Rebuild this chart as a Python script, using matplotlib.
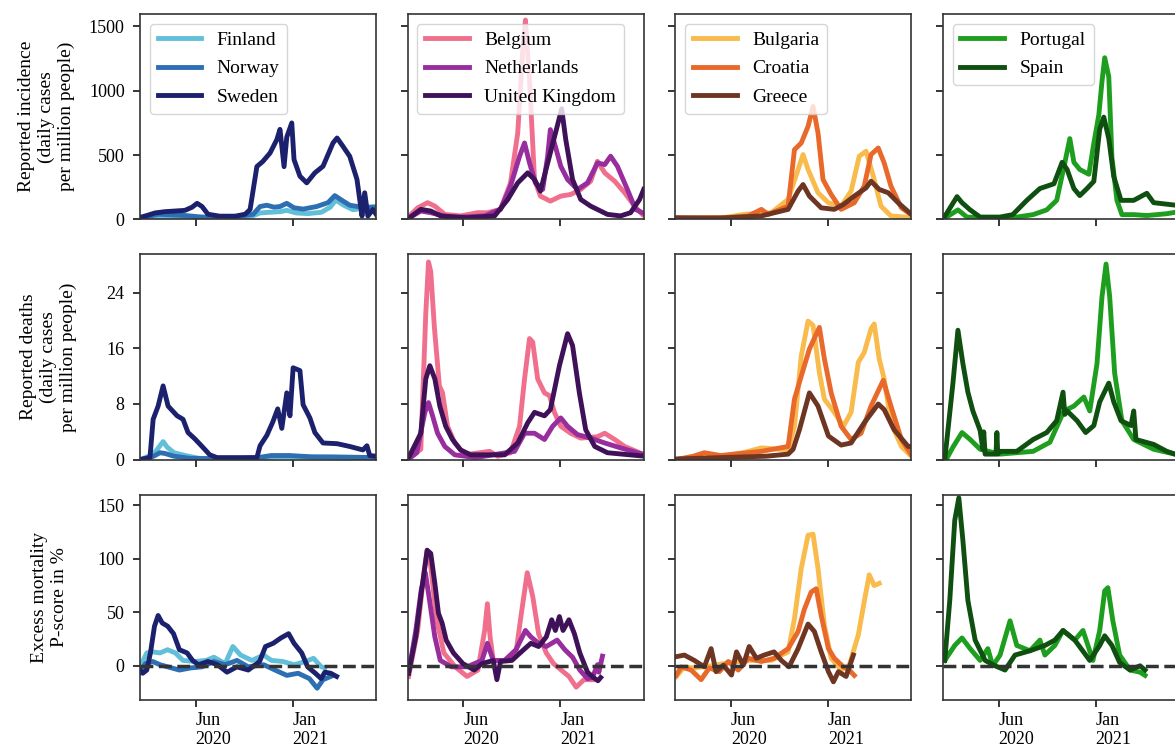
import matplotlib.pyplot as plt
import numpy as np

# values
# every series is a list of (days since 2020-01-30, value)
START = np.datetime64("2020-01-30")

# --- reported incidence (daily cases per million people)
finland_cases = [(0, 5), (30, 15), (60, 20), (100, 15), (150, 10), (200, 10), (240, 15), (265, 50),
                 (285, 55), (309, 60), (324, 70), (345, 50), (370, 45), (400, 55), (420, 95),
                 (432, 150), (450, 110), (470, 75), (500, 90), (521, 100)]
norway_cases = [(0, 10), (20, 25), (40, 40), (70, 35), (100, 30), (130, 20), (160, 15), (190, 15),
                (220, 25), (250, 40), (265, 100), (280, 110), (296, 95), (309, 100), (324, 125),
                (340, 90), (360, 80), (390, 100), (415, 130), (430, 185), (445, 150), (463, 110),
                (490, 95), (521, 95)]
sweden_cases = [(0, 15), (15, 30), (33, 50), (55, 60), (77, 65), (99, 70), (115, 95), (126, 125),
                (137, 100), (150, 40), (176, 25), (210, 25), (232, 40), (243, 77), (258, 411),
                (271, 450), (287, 516), (302, 620), (309, 700), (318, 410), (324, 640), (335, 750),
                (340, 465), (353, 336), (368, 284), (386, 362), (404, 413), (426, 594), (435, 633),
                (448, 568), (463, 490), (479, 310), (485, 155), (490, 26), (496, 207), (503, 26),
                (514, 77), (521, 40)]
belgium_cases = [(4, 27), (22, 90), (44, 130), (60, 103), (82, 39), (117, 27), (154, 52), (176, 52),
                 (205, 78), (227, 284), (243, 672), (254, 1318), (260, 1550), (269, 1085),
                 (280, 310), (293, 181), (315, 142), (338, 181), (360, 194), (382, 233), (404, 297),
                 (419, 452), (435, 362), (457, 297), (479, 207), (501, 103), (518, 39)]
netherlands_cases = [(4, 13), (29, 65), (51, 52), (95, 13), (170, 27), (205, 78), (227, 258),
                     (247, 491), (258, 594), (269, 439), (282, 284), (298, 233), (309, 491),
                     (315, 698), (326, 568), (338, 413), (353, 310), (375, 233), (397, 284),
                     (419, 439), (435, 426), (448, 491), (463, 413), (485, 233), (503, 78), (518, 52)]
uk_cases = [(4, 13), (29, 78), (51, 65), (73, 27), (132, 13), (192, 27), (221, 155), (243, 284),
            (265, 362), (280, 310), (293, 220), (313, 491), (331, 736), (340, 860), (349, 620),
            (364, 310), (382, 155), (404, 103), (441, 39), (470, 27), (492, 52), (512, 155), (521, 233)]
bulgaria_cases = [(0, 5), (100, 10), (152, 39), (212, 52), (249, 155), (271, 388), (282, 504),
                  (293, 388), (315, 207), (338, 129), (366, 103), (388, 220), (406, 491), (421, 530),
                  (437, 336), (454, 103), (476, 27), (525, 13)]
croatia_cases = [(0, 10), (60, 12), (120, 15), (160, 25), (190, 78), (205, 39), (249, 103),
                 (263, 542), (278, 594), (293, 723), (304, 878), (315, 672), (326, 310), (344, 194),
                 (366, 78), (395, 129), (417, 258), (432, 504), (448, 555), (461, 439), (476, 258),
                 (499, 90), (525, 27)]
greece_cases = [(0, 13), (100, 10), (190, 27), (249, 78), (271, 220), (282, 271), (296, 181),
                (322, 90), (351, 78), (371, 116), (395, 181), (421, 245), (432, 297), (450, 233),
                (470, 207), (492, 129), (525, 27)]
portugal_cases = [(0, 0), (33, 74), (53, 18), (126, 7), (163, 18), (199, 37), (229, 74), (251, 148),
                  (267, 407), (280, 628), (289, 444), (302, 388), (322, 351), (333, 592), (344, 813),
                  (351, 1072), (357, 1257), (366, 1109), (373, 480), (384, 148), (395, 37),
                  (421, 37), (450, 30), (494, 44), (512, 55), (521, 55)]
spain_cases = [(0, 0), (31, 177), (42, 130), (60, 74), (82, 18), (126, 18), (154, 37), (185, 148),
               (214, 240), (245, 277), (263, 444), (274, 388), (289, 240), (302, 185), (318, 240),
               (333, 296), (346, 702), (355, 795), (366, 628), (377, 333), (393, 148), (421, 148),
               (450, 203), (465, 130), (512, 111), (521, 111)]

# --- reported deaths (daily deaths per million people)
finland_deaths = [(0, 0), (30, 0.8), (44, 2.0), (51, 2.6), (60, 1.8), (75, 1.0), (100, 0.6),
                  (130, 0.2), (250, 0.1), (300, 0.4), (380, 0.4), (521, 0.2)]
norway_deaths = [(0, 0), (30, 0.5), (44, 1.0), (55, 0.9), (75, 0.5), (110, 0.2), (200, 0.1),
                 (260, 0.3), (290, 0.6), (330, 0.6), (380, 0.4), (430, 0.4), (521, 0.3)]
sweden_deaths = [(0, 0), (22, 0.3), (29, 5.8), (40, 7.7), (51, 10.6), (62, 7.7), (82, 6.3),
                 (95, 5.8), (106, 3.9), (121, 3.0), (137, 1.9), (154, 0.7), (170, 0.3), (258, 0.3),
                 (265, 2), (280, 3.5), (293, 5.4), (304, 7.3), (313, 4.5), (324, 9.6), (331, 6.3),
                 (338, 13.2), (353, 12.8), (360, 7.9), (375, 6.0), (386, 3.9), (404, 2.4),
                 (435, 2.3), (463, 1.9), (492, 1.4), (501, 2.0), (507, 0.6), (521, 0.5)]
belgium_deaths = [(0, 0), (29, 1.5), (40, 21), (46, 28.4), (51, 27), (59, 19), (70, 10.6),
                  (77, 9.6), (88, 4.8), (104, 2.4), (126, 0.7), (181, 1.2), (199, 0.5), (227, 1),
                  (247, 4.8), (258, 11.6), (269, 17.4), (276, 16.9), (287, 11.6), (302, 9.6),
                  (313, 9.2), (324, 6.8), (338, 4.8), (360, 3.8), (382, 3.1), (419, 3.3),
                  (435, 3.8), (457, 2.9), (479, 1.9), (523, 0.7)]
netherlands_deaths = [(0, 0), (20, 1), (38, 6.8), (46, 8.2), (55, 6.3), (66, 3.8), (82, 1.9),
                      (104, 0.7), (150, 0.3), (236, 1.2), (258, 3.8), (280, 3.8), (302, 2.9),
                      (320, 4.8), (338, 6.0), (353, 4.8), (375, 3.6), (404, 3.1), (435, 2.4),
                      (470, 1.7), (523, 0.7)]
uk_deaths = [(0, 0), (29, 3.8), (40, 11.6), (49, 13.5), (60, 11.6), (71, 7.7), (84, 4.8), (99, 2.9),
             (117, 1.4), (139, 0.7), (214, 0.7), (243, 2.4), (265, 5.3), (280, 6.8), (302, 6.3),
             (315, 7.2), (335, 13.5), (353, 18.1), (364, 16.4), (379, 9.6), (393, 4.3), (413, 1.9),
             (441, 1.0), (523, 0.5)]
bulgaria_deaths = [(0, 0), (40, 0.3), (100, 0.5), (150, 1.0), (190, 1.7), (249, 1.4), (263, 4.8),
                   (278, 14.9), (293, 19.9), (304, 19.3), (318, 12.5), (329, 8.7), (351, 6.8),
                   (371, 4.8), (388, 6.8), (404, 14.0), (417, 15.4), (432, 18.8), (439, 19.5),
                   (450, 14.5), (461, 11.6), (476, 5.3), (499, 1.9), (521, 0.5)]
croatia_deaths = [(0, 0), (40, 0.5), (64, 1.0), (100, 0.6), (190, 1.2), (249, 1.9), (263, 8.7),
                  (278, 12), (296, 15.9), (318, 19), (329, 14.5), (344, 9.6), (366, 4.8), (388, 2.9),
                  (410, 3.8), (432, 7.7), (459, 11.4), (476, 7.7), (499, 2.9), (521, 0.7)]
greece_deaths = [(0, 0.1), (100, 0.3), (200, 0.5), (249, 0.8), (260, 1.5), (274, 4.3), (296, 9.6),
                 (315, 7.7), (338, 3.4), (366, 2.1), (388, 2.4), (417, 5.3), (448, 8.0), (461, 7.2),
                 (483, 4.3), (514, 1.9), (521, 1.9)]
portugal_deaths = [(7, 0), (22, 1.8), (42, 3.9), (60, 2.9), (82, 1.5), (126, 0.8), (199, 1.2),
                   (236, 2.5), (267, 7), (289, 7.7), (311, 9), (324, 7), (340, 13.8), (351, 23.4),
                   (360, 28.1), (368, 23.4), (379, 12.4), (395, 5.6), (421, 2.9), (465, 1.5),
                   (512, 0.8), (521, 0.8)]
spain_deaths = [(4, 0), (22, 11), (33, 18.6), (44, 13.8), (55, 9.7), (66, 7), (82, 4.2), (88, 1.5),
                (90, 4.0), (93, 0.8), (117, 0.8), (119, 3.9), (121, 0.8), (126, 1.2), (163, 1.2),
                (199, 2.9), (229, 3.9), (251, 5.6), (265, 9.7), (269, 6.5), (274, 7), (296, 5.6),
                (315, 3.9), (333, 4.9), (346, 8.3), (366, 11), (377, 8.3), (393, 5.6), (415, 4.9),
                (421, 7.0), (426, 2.9), (465, 2.2), (494, 1.2), (512, 0.8), (521, 0.8)]

# --- excess mortality (P-score in %)
finland_excess = [(0, -1), (15, 12), (28, 13), (44, 12), (61, 15), (78, 12), (95, 5), (120, 4),
                  (146, 5), (163, 8), (188, 2), (205, 18), (222, 10), (247, 5), (273, 10), (290, 5),
                  (315, 4), (340, 1), (366, 4), (383, 7), (400, -1), (408, -2)]
norway_excess = [(0, -6), (12, 2), (28, 4), (44, 1), (61, -1), (87, -4), (112, -2), (137, -1),
                 (163, 4), (188, 1), (214, 5), (239, -1), (273, 1), (298, -4), (324, -9), (349, -7),
                 (374, -12), (391, -21), (404, -13), (421, -10)]
sweden_excess = [(0, -4), (6, -7), (15, -4), (23, 12), (32, 37), (40, 47), (49, 40), (61, 37),
                 (74, 30), (87, 15), (104, 12), (116, 5), (129, 1), (150, 4), (171, 1), (192, -6),
                 (214, -1), (239, -4), (264, 4), (277, 18), (294, 21), (311, 26), (328, 30),
                 (340, 21), (357, 12), (370, -1), (387, -7), (400, -12), (408, -6), (421, -7),
                 (434, -10)]
belgium_excess = [(2, -10), (22, 33), (35, 83), (43, 108), (51, 93), (64, 43), (80, 12), (105, -1),
                  (131, -10), (155, -4), (170, 33), (176, 58), (182, 27), (189, 5), (214, 5),
                  (239, 12), (251, 49), (264, 87), (276, 65), (289, 30), (306, 12), (322, 2),
                  (339, -4), (356, -10), (372, -20), (389, -13), (408, -13)]
netherlands_excess = [(2, -7), (18, 33), (30, 71), (39, 87), (47, 65), (60, 27), (72, 5), (97, -1),
                      (131, -1), (164, 5), (176, 21), (189, 5), (214, 5), (239, 15), (260, 33),
                      (272, 27), (289, 21), (306, 18), (330, 24), (347, 15), (364, 8), (380, -4),
                      (397, -12), (408, -11), (419, 1), (422, -6), (430, 9)]
uk_excess = [(2, -7), (18, 27), (30, 68), (43, 108), (51, 105), (60, 77), (68, 49), (76, 40),
             (85, 24), (101, 12), (122, 2), (147, -4), (164, 2), (189, 5), (197, -13), (205, 4),
             (230, 5), (256, 15), (272, 21), (289, 18), (306, 27), (318, 43), (326, 33), (335, 46),
             (343, 33), (356, 43), (368, 30), (380, 12), (397, -6), (410, -11), (420, -14),
             (426, -11)]
bulgaria_excess = [(2, -10), (20, -1), (42, -2), (80, 0), (120, 3), (160, 5), (212, 5), (249, 13),
                   (263, 44), (278, 91), (293, 122), (304, 123), (315, 91), (329, 38), (344, 7),
                   (366, -4), (384, 0.6), (404, 29), (417, 60), (428, 85), (439, 75), (450, 77)]
croatia_excess = [(2, -9), (13, -1), (35, -4), (57, -13), (75, -2), (97, -5.5), (117, 4), (139, -4),
                  (161, 7), (190, 4), (218, 7), (249, 16), (271, 32), (285, 53), (300, 69),
                  (311, 72), (322, 47), (338, 16), (351, 7), (371, -1), (384, -4), (395, -9)]
greece_excess = [(2, 8.5), (20, 10), (42, 5), (64, -1), (79, 16), (90, -5.5), (106, 0.6),
                 (124, -8.7), (135, 13), (150, 0.6), (163, 18), (179, 7), (196, 10), (218, 13),
                 (234, 5), (251, -1), (271, 16), (293, 39), (307, 32), (322, 13), (338, -5.5),
                 (349, -15), (360, -5.5), (377, -10), (393, 10)]
portugal_excess = [(4, 5), (26, 19), (42, 26), (60, 16), (82, 5), (99, 16), (110, 0), (126, 10),
                   (148, 42), (163, 19), (192, 14), (214, 24), (225, 10), (247, 19), (265, 33),
                   (291, 24), (309, 33), (331, 5), (346, 33), (357, 70), (364, 73), (375, 42),
                   (390, 10), (413, -4), (435, -6), (446, -9)]
spain_excess = [(4, 5), (15, 61), (26, 136), (35, 157), (44, 117), (55, 61), (71, 24), (93, 5),
                (115, 0), (137, -4), (159, 10), (192, 14), (225, 19), (247, 24), (265, 33),
                (291, 24), (324, 5), (346, 19), (357, 28), (373, 19), (390, 3), (413, -4), (435, 0),
                (446, -4)]

groups = [["Finland", "Norway", "Sweden"],
          ["Belgium", "Netherlands", "United Kingdom"],
          ["Bulgaria", "Croatia", "Greece"],
          ["Portugal", "Spain"]]

colors = {"Finland": "#62bfd8", "Norway": "#2e6fb3", "Sweden": "#1b216d",
          "Belgium": "#ef6f8d", "Netherlands": "#982d9d", "United Kingdom": "#3f1158",
          "Bulgaria": "#f8bb4c", "Croatia": "#e8692a", "Greece": "#6f3523",
          "Portugal": "#1e9e1e", "Spain": "#0f4f10"}

rows = [
    {"Finland": finland_cases, "Norway": norway_cases, "Sweden": sweden_cases,
     "Belgium": belgium_cases, "Netherlands": netherlands_cases, "United Kingdom": uk_cases,
     "Bulgaria": bulgaria_cases, "Croatia": croatia_cases, "Greece": greece_cases,
     "Portugal": portugal_cases, "Spain": spain_cases},
    {"Finland": finland_deaths, "Norway": norway_deaths, "Sweden": sweden_deaths,
     "Belgium": belgium_deaths, "Netherlands": netherlands_deaths, "United Kingdom": uk_deaths,
     "Bulgaria": bulgaria_deaths, "Croatia": croatia_deaths, "Greece": greece_deaths,
     "Portugal": portugal_deaths, "Spain": spain_deaths},
    {"Finland": finland_excess, "Norway": norway_excess, "Sweden": sweden_excess,
     "Belgium": belgium_excess, "Netherlands": netherlands_excess, "United Kingdom": uk_excess,
     "Bulgaria": bulgaria_excess, "Croatia": croatia_excess, "Greece": greece_excess,
     "Portugal": portugal_excess, "Spain": spain_excess},
]

row_labels = ["Reported incidence\n(daily cases\nper million people)",
              "Reported deaths\n(daily cases\nper million people)",
              "Excess mortality\nP-score in %"]
row_ticks = [[0, 500, 1000, 1500], [0, 8, 16, 24], [0, 50, 100, 150]]
row_limits = [(0, 1597), (0, 29.5), (-32, 160)]
label_x = [-0.275, -0.267, -0.305]

tick_dates = [np.datetime64("2020-06-01"), np.datetime64("2021-01-01")]
tick_labels = ["Jun\n2020", "Jan\n2021"]

plt.rcParams["font.family"] = "serif"
plt.rcParams["font.serif"] = ["Liberation Serif", "DejaVu Serif"]
plt.rcParams["font.size"] = 13

# the last column runs off the right edge, as in the reference
fig, axes = plt.subplots(3, 4, figsize=(11.75, 7.51), dpi=100, sharex=True, sharey="row",
                         gridspec_kw=dict(left=140 / 1175, right=1179 / 1175,
                                          top=1 - 14 / 751, bottom=1 - 700 / 751,
                                          wspace=0.134, hspace=0.17))

for r in range(3):
    for c, countries in enumerate(groups):
        ax = axes[r, c]
        for name in countries:
            pts = np.array(rows[r][name], dtype=float)
            dates = START + pts[:, 0].astype("timedelta64[D]")
            ax.plot(dates, pts[:, 1], color=colors[name], lw=3.5, label=name)
        if r == 2:
            ax.axhline(0, color="#333333", ls="--", lw=2.5)
        if r == 0:
            ax.legend(loc="upper left", handlelength=2.25, fontsize=14, labelspacing=0.55)
        ax.tick_params(direction="out", length=5, width=1.1)
        ax.tick_params(axis="y", pad=6)
        for s in ["top", "right", "left", "bottom"]:
            ax.spines[s].set_color("#333333")
            ax.spines[s].set_linewidth(1.2)
    axes[r, 0].set_yticks(row_ticks[r])
    axes[r, 0].set_ylim(*row_limits[r])
    axes[r, 0].set_ylabel(row_labels[r], fontsize=14)
    axes[r, 0].yaxis.set_label_coords(label_x[r], 0.5)

axes[0, 0].set_xlim(np.datetime64("2020-01-30"), np.datetime64("2021-07-04"))
for ax in axes[2]:
    ax.set_xticks(tick_dates, tick_labels, ha="left")

fig.savefig("out.png", dpi=100)
